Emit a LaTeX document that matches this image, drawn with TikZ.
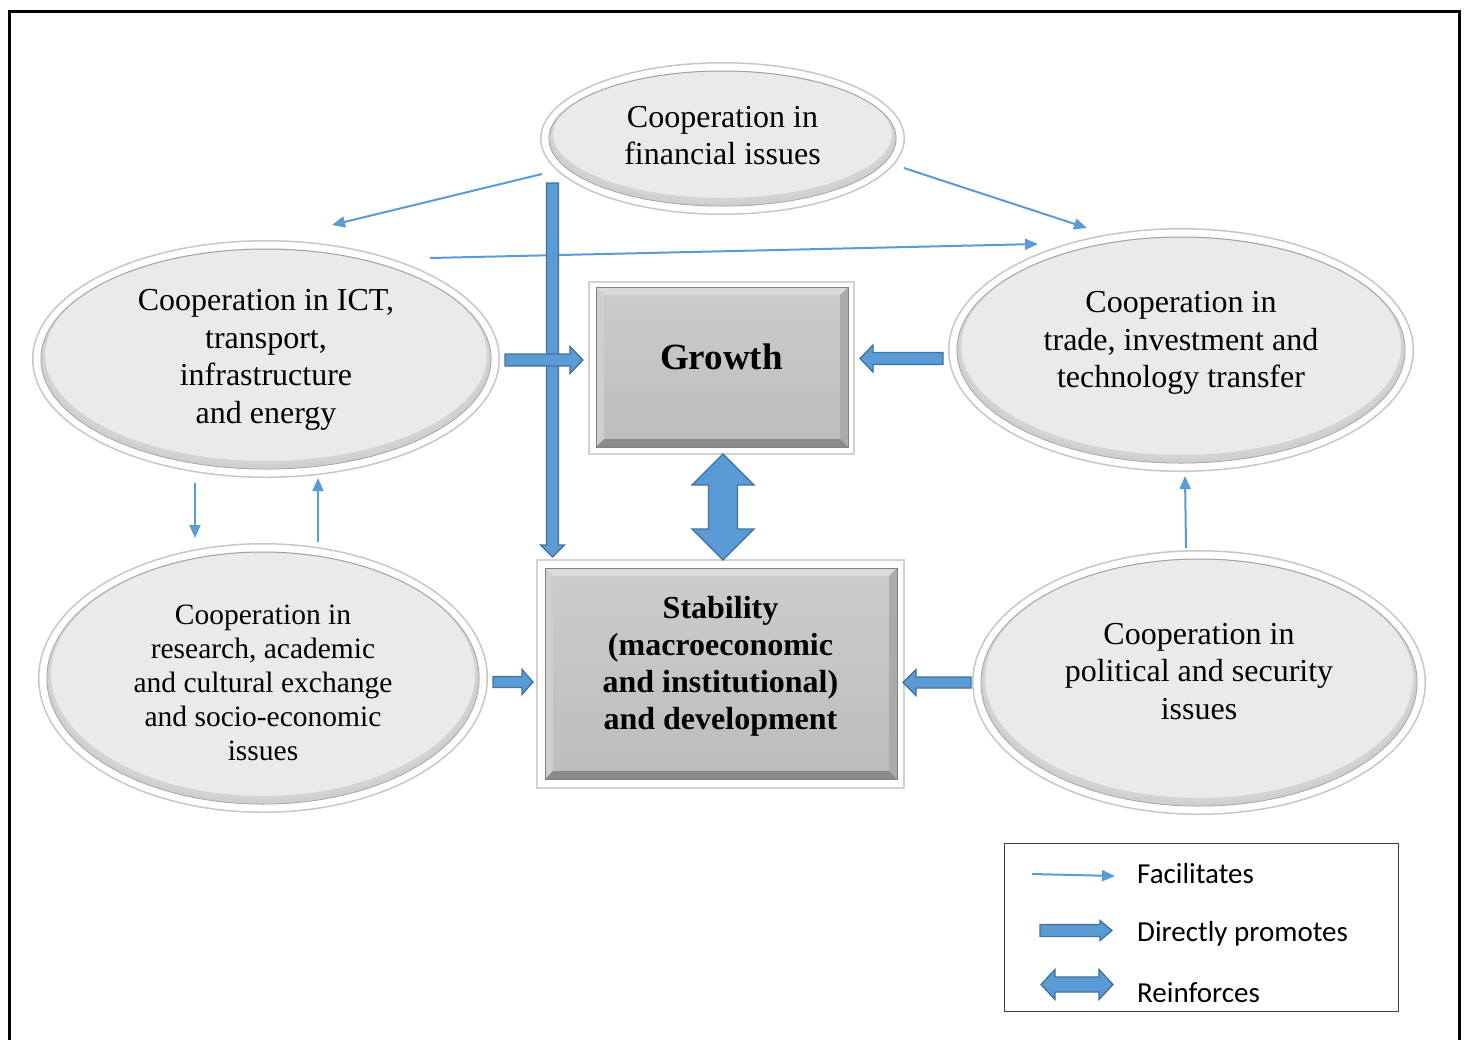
\documentclass[tikz,border=0pt]{standalone}
\usepackage{fontspec}
\setmainfont{Liberation Serif}
\newfontfamily\legendfont{Carlito}
\usetikzlibrary{shapes.geometric,arrows.meta,calc}

\definecolor{arrowblue}{HTML}{5B9BD5}
\definecolor{arrowedge}{HTML}{41719C}
\definecolor{ellfill}{HTML}{EAEAEA}

\tikzset{
  thin link/.style={draw=arrowblue, line width=2pt, -{Triangle[length=13pt,width=11pt]}},
  blockshape/.style={fill=arrowblue, draw=arrowedge, line width=1.3pt, line join=miter},
  outer ell/.style={ellipse, fill=white, draw=black!22, line width=1.5pt, inner sep=0pt},
  inner ell/.style={fill=ellfill, draw=black!38, line width=1pt},
  ell text/.style={align=center, inner sep=0pt, font=\fontsize{32}{37.5}\selectfont},
  small ell text/.style={align=center, inner sep=0pt, font=\fontsize{29.5}{34}\selectfont},
  box frame/.style={rectangle, fill=white, draw=black!18, line width=1.5pt, inner sep=0pt},
  box text/.style={align=center, inner sep=0pt, font=\bfseries\fontsize{32}{37}\selectfont},
  legend text/.style={anchor=west, inner sep=0pt, font=\legendfont\fontsize{29}{34}\selectfont},
}

% ellipse with white ring: name, cx, cy, rx, ry
\newcommand\ringellipse[5]{%
  \node[outer ell, minimum width=2*#4-1.5, minimum height=2*#5-1.5] (#1) at (#2,#3) {};
  \path[inner ell] (#1.center) ellipse [x radius=#4-9, y radius=#5-9];
  \begin{scope}
    \clip (#1.center) ellipse [x radius=#4-9, y radius=#5-9];
    \draw[black!30, line width=8pt, opacity=.4] ($(#1.center)+(0,-4)$) ellipse [x radius=#4-9, y radius=#5-9];
    \draw[black!20, line width=4pt, opacity=.45] ($(#1.center)+(0,-2)$) ellipse [x radius=#4-9, y radius=#5-9];
  \end{scope}
}

% bevelled grey panel: x1, y1, x2, y2
\newcommand\bevelpanel[4]{%
  \shade[top color=black!20, bottom color=black!26] (#1,#2) rectangle (#3,#4);
  \fill[black!14] (#1,#2) -- (#3,#2) -- (#3-8,#2+8) -- (#1+8,#2+8) -- cycle;
  \fill[black!19] (#1,#2) -- (#1+8,#2+8) -- (#1+8,#4-8) -- (#1,#4) -- cycle;
  \fill[black!33] (#3,#2) -- (#3,#4) -- (#3-8,#4-8) -- (#3-8,#2+8) -- cycle;
  \fill[black!46] (#1,#4) -- (#3,#4) -- (#3-8,#4-8) -- (#1+8,#4-8) -- cycle;
  \draw[black!50, line width=1pt] (#1,#2) rectangle (#3,#4);
}

% block arrow: start, end, half shaft, half head, head length
\newcommand\blockarrow[5]{%
  \path[blockshape] let \p1=(#1), \p2=(#2),
    \n1={veclen(\x2-\x1,\y2-\y1)}, \n2={(\x2-\x1)/\n1}, \n3={(\y2-\y1)/\n1} in
    ({\x1-(\n3)*(#3)}, {\y1+(\n2)*(#3)})
    -- ({\x2-(\n2)*(#5)-(\n3)*(#3)}, {\y2-(\n3)*(#5)+(\n2)*(#3)})
    -- ({\x2-(\n2)*(#5)-(\n3)*(#4)}, {\y2-(\n3)*(#5)+(\n2)*(#4)})
    -- (\p2)
    -- ({\x2-(\n2)*(#5)+(\n3)*(#4)}, {\y2-(\n3)*(#5)-(\n2)*(#4)})
    -- ({\x2-(\n2)*(#5)+(\n3)*(#3)}, {\y2-(\n3)*(#5)-(\n2)*(#3)})
    -- ({\x1+(\n3)*(#3)}, {\y1-(\n2)*(#3)}) -- cycle;}

% double-headed block arrow: start, end, half shaft, half head, head length
\newcommand\dblockarrow[5]{%
  \path[blockshape] let \p1=(#1), \p2=(#2),
    \n1={veclen(\x2-\x1,\y2-\y1)}, \n2={(\x2-\x1)/\n1}, \n3={(\y2-\y1)/\n1} in
    (\p1)
    -- ({\x1+(\n2)*(#5)-(\n3)*(#4)}, {\y1+(\n3)*(#5)+(\n2)*(#4)})
    -- ({\x1+(\n2)*(#5)-(\n3)*(#3)}, {\y1+(\n3)*(#5)+(\n2)*(#3)})
    -- ({\x2-(\n2)*(#5)-(\n3)*(#3)}, {\y2-(\n3)*(#5)+(\n2)*(#3)})
    -- ({\x2-(\n2)*(#5)-(\n3)*(#4)}, {\y2-(\n3)*(#5)+(\n2)*(#4)})
    -- (\p2)
    -- ({\x2-(\n2)*(#5)+(\n3)*(#4)}, {\y2-(\n3)*(#5)-(\n2)*(#4)})
    -- ({\x2-(\n2)*(#5)+(\n3)*(#3)}, {\y2-(\n3)*(#5)-(\n2)*(#3)})
    -- ({\x1+(\n2)*(#5)+(\n3)*(#3)}, {\y1+(\n3)*(#5)-(\n2)*(#3)})
    -- ({\x1+(\n2)*(#5)+(\n3)*(#4)}, {\y1+(\n3)*(#5)-(\n2)*(#4)})
    -- cycle;}

\begin{document}
\begin{tikzpicture}[x=1pt, y=-1pt]
  \useasboundingbox (0,0) rectangle (1467,1039);
  \fill[white] (0,0) rectangle (1467,1039);

  % outer frame
  \draw[line width=3pt, black] (9,1045) -- (9,11) -- (1459.5,11) -- (1459.5,1045);

  % ellipses
  \ringellipse{fin}{722.5}{138.5}{182.5}{76.5}
  \ringellipse{ict}{266}{359}{234}{119}
  \ringellipse{trade}{1181}{350}{233}{122}
  \ringellipse{research}{263}{678}{225}{135}
  \ringellipse{political}{1199}{682.5}{227}{132.5}

  \node[ell text] (fintext) at ($(fin.center)+(0,-3)$) {Cooperation in\\financial issues};
  \node[ell text] (icttext) at ($(ict.center)+(0,1)$) {Cooperation in ICT,\\transport,\\infrastructure\\and energy};
  \node[ell text] (tradetext) at ($(trade.center)+(0,-7)$) {Cooperation in\\trade, investment and\\technology transfer};
  \node[small ell text] (researchtext) at ($(research.center)+(0,5)$) {Cooperation in\\research, academic\\and cultural exchange\\and socio-economic\\issues};
  \node[ell text] (politicaltext) at ($(political.center)+(0,-11)$) {Cooperation in\\political and security\\issues};

  % central panels
  \node[box frame, minimum width=265, minimum height=172] (growthframe) at (721.5,368) {};
  \bevelpanel{596}{287}{848}{447}
  \node[box text, font=\bfseries\fontsize{37}{40}\selectfont] (growth) at ($(growthframe.center)+(0,-11)$) {Growth};

  \node[box frame, minimum width=367, minimum height=228] (stabframe) at (720.5,674) {};
  \bevelpanel{545}{568}{897}{779}
  \node[box text] (stab) at ($(stabframe.center)+(0,-8)$) {Stability\\(macroeconomic\\and institutional)\\and development};

  % end points of the links
  \coordinate (f1) at (542,174);   \coordinate (f1e) at (332,225);
  \coordinate (f2) at (904,168);   \coordinate (f2e) at (1087,228);
  \coordinate (i1) at (430,258);   \coordinate (i1e) at (1038,244);
  \coordinate (i2) at (195,483);   \coordinate (i2e) at (195,538);
  \coordinate (r1) at (318,542);   \coordinate (r1e) at (318,478);
  \coordinate (p1) at (1186,548);  \coordinate (p1e) at (1185,476);

  % facilitating links
  \draw[thin link] (f1) -- (f1e);
  \draw[thin link] (f2) -- (f2e);
  \draw[thin link] (i1) -- (i1e);
  \draw[thin link] (i2) -- (i2e);
  \draw[thin link] (r1) -- (r1e);
  \draw[thin link] (p1) -- (p1e);

  % direct promotion arrows
  \coordinate (fs) at (552.5,183);  \coordinate (fse) at (552.5,557);
  \coordinate (ig) at (505,360);    \coordinate (ige) at (583,360);
  \coordinate (tg) at (943,358.5);  \coordinate (tge) at (860,358.5);
  \coordinate (rs) at (493,682);    \coordinate (rse) at (533,682);
  \coordinate (ps) at (971,682.5);  \coordinate (pse) at (903,682.5);

  \blockarrow{fs}{fse}{6}{12}{12}
  \blockarrow{ig}{ige}{6}{13.5}{13}
  \blockarrow{tg}{tge}{6}{13.5}{13}
  \blockarrow{rs}{rse}{5.5}{12.5}{11}
  \blockarrow{ps}{pse}{5.5}{13}{13}

  % mutual reinforcement
  \coordinate (gs) at (723,454);  \coordinate (gse) at (723,560);
  \dblockarrow{gs}{gse}{14.5}{31}{31}

  % legend
  \node[draw=black!75, line width=1.5pt, minimum width=394, minimum height=168, inner sep=0pt] (legend) at (1201.5,927.5) {};
  \coordinate (la) at (1032,874);  \coordinate (lae) at (1115,876);
  \draw[thin link] (la) -- (lae);
  \coordinate (lb) at (1040,930.5);  \coordinate (lbe) at (1112,930.5);
  \blockarrow{lb}{lbe}{6}{10}{12}
  \coordinate (lc) at (1041,984.5);  \coordinate (lce) at (1113,984.5);
  \dblockarrow{lc}{lce}{7.5}{15}{14}
  \node[legend text] (lt1) at (1137,874) {Facilitates};
  \node[legend text] (lt2) at (1137,934) {Directly promotes};
  \node[legend text] (lt3) at (1137,993) {Reinforces};
\end{tikzpicture}
\end{document}
